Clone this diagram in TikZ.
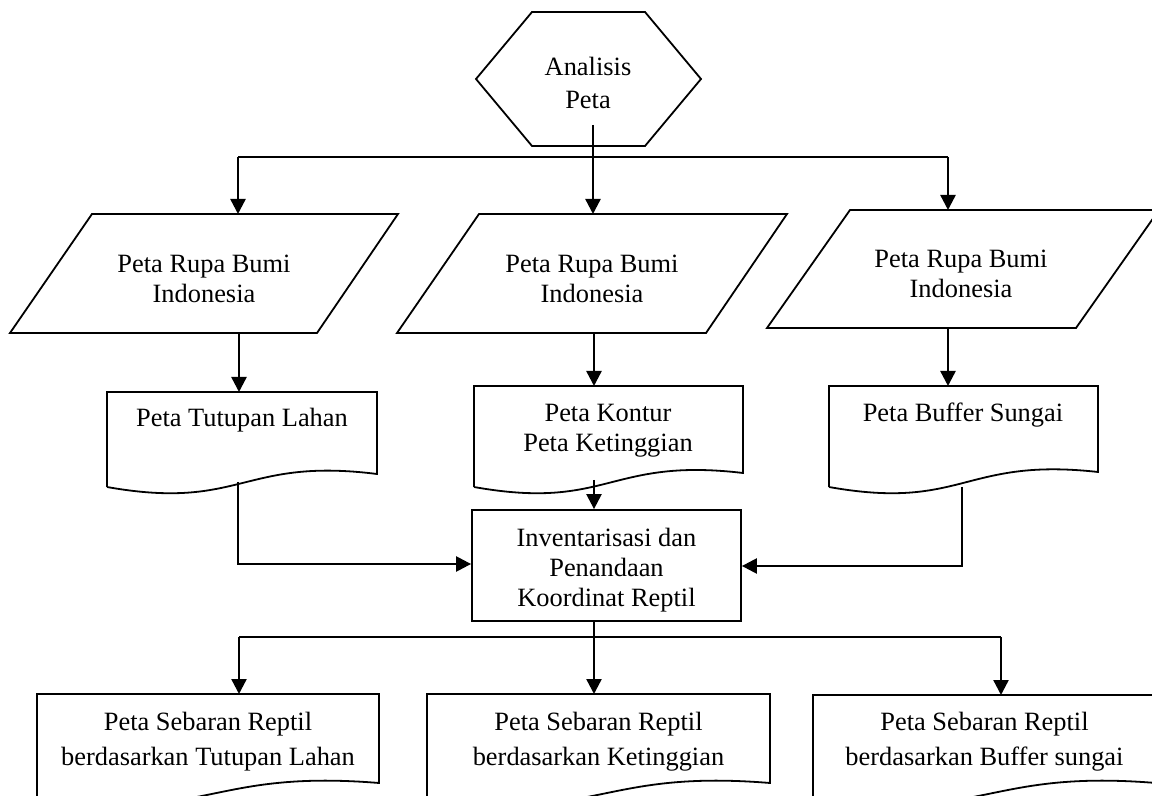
\documentclass[tikz,border=0pt]{standalone}
\usepackage{fontspec}
\setmainfont{Liberation Serif}
\usetikzlibrary{arrows.meta}
\begin{document}
\begin{tikzpicture}[x=0.5pt,y=-0.5pt,
  shp/.style={draw=black, line width=0.9pt, line join=miter},
  con/.style={draw=black, line width=1.2pt},
  arr/.style={con, -{Triangle[length=7.5pt,width=7.5pt]}},
  txt/.style={align=center, inner sep=0pt, font=\fontsize{13.2pt}{15pt}\selectfont},
  txtb/.style={align=center, inner sep=0pt, font=\fontsize{13.2pt}{17.5pt}\selectfont},
  txth/.style={align=center, inner sep=0pt, font=\fontsize{13.2pt}{16.5pt}\selectfont},
]
\clip (0,0) rectangle (1152,796);
\newcommand\docshape[5]{%
  \draw[shp] (#1,#4) -- (#1,#2) -- (#3,#2) -- (#3,{#4-#5})
    .. controls ({(#1+#3)/2},{#4-30}) and ({(#1+#3)/2},{#4+24}) .. (#1,#4);}

% shapes
\draw[shp] (532,12) -- (645,12) -- (701,79) -- (645,146) -- (532,146) -- (476,79) -- cycle;
\draw[shp] (92,214) -- (398,214) -- (317,333) -- (10,333) -- cycle;
\draw[shp] (479,214) -- (787,214) -- (706,333) -- (397,333) -- cycle;
\draw[shp] (850,210) -- (1159,210) -- (1076,328) -- (767,328) -- cycle;
\docshape{107}{392}{377}{487}{13}
\docshape{474}{386}{743}{487}{14}
\docshape{829}{386}{1098}{487}{15}
\docshape{37}{694}{379}{799}{16}
\docshape{427}{694}{770}{799}{16}
\docshape{813}{695}{1156}{799}{16}
\node[shp, minimum width=134.5pt, minimum height=55.5pt, inner sep=0pt] (inv) at (606.5,565.5) {};

% texts
\node[txth] (hex) at (588,82.5) {Analisis\\Peta};
\node[txt] (p1) at (204,279) {Peta Rupa Bumi\\Indonesia};
\node[txt] (p2) at (592,279) {Peta Rupa Bumi\\Indonesia};
\node[txt] (p3) at (961,274) {Peta Rupa Bumi\\Indonesia};
\node[txt] (d1) at (242,420) {Peta Tutupan Lahan};
\node[txt] (d2) at (608,431) {Peta Kontur\\Peta Ketinggian};
\node[txt] (d3) at (963,415) {Peta Buffer Sungai};
\node[txt] (invtxt) at (606.5,570) {Inventarisasi dan\\Penandaan\\Koordinat Reptil};
\node[txtb] (o1) at (208,741.5) {Peta Sebaran Reptil\\berdasarkan Tutupan Lahan};
\node[txtb] (o2) at (598.5,741.5) {Peta Sebaran Reptil\\berdasarkan Ketinggian};
\node[txtb] (o3) at (984.5,741.5) {Peta Sebaran Reptil\\berdasarkan Buffer sungai};

% connector coordinates
\coordinate (hexout) at (593,125);
\coordinate (b1L) at (238,157);
\coordinate (b1R) at (948,157);
\coordinate (p1top) at (238,214);
\coordinate (p2top) at (593,214);
\coordinate (p3top) at (948,210);
\coordinate (p1bot) at (239,333);
\coordinate (p2bot) at (594,333);
\coordinate (p3bot) at (948,328);
\coordinate (d1top) at (239,392);
\coordinate (d2top) at (594,386);
\coordinate (d3top) at (948,386);
\coordinate (d1out) at (238,482);
\coordinate (d2out) at (594,480);
\coordinate (d3out) at (962,487);
\coordinate (c1) at (238,564);
\coordinate (c3) at (962,566);
\coordinate (b2L) at (239,637);
\coordinate (b2R) at (1001,637);
\coordinate (o1top) at (239,694);
\coordinate (o3top) at (1001,695);

% connectors
\draw[con] (b1L) -- (b1R);
\draw[arr] (hexout) -- (p2top);
\draw[arr] (b1L) -- (p1top);
\draw[arr] (b1R) -- (p3top);
\draw[arr] (p1bot) -- (d1top);
\draw[arr] (p2bot) -- (d2top);
\draw[arr] (p3bot) -- (d3top);
\draw[arr] (d2out) -- (d2out |- inv.north);
\draw[arr] (d1out) -- (c1) -- (c1 -| inv.west);
\draw[arr] (d3out) -- (c3) -- (c3 -| inv.east);
\draw[con] (b2L) -- (b2R);
\draw[arr] (inv.south -| d2out) -- (d2out |- o1top);
\draw[arr] (b2L) -- (o1top);
\draw[arr] (b2R) -- (o3top);
\end{tikzpicture}
\end{document}
